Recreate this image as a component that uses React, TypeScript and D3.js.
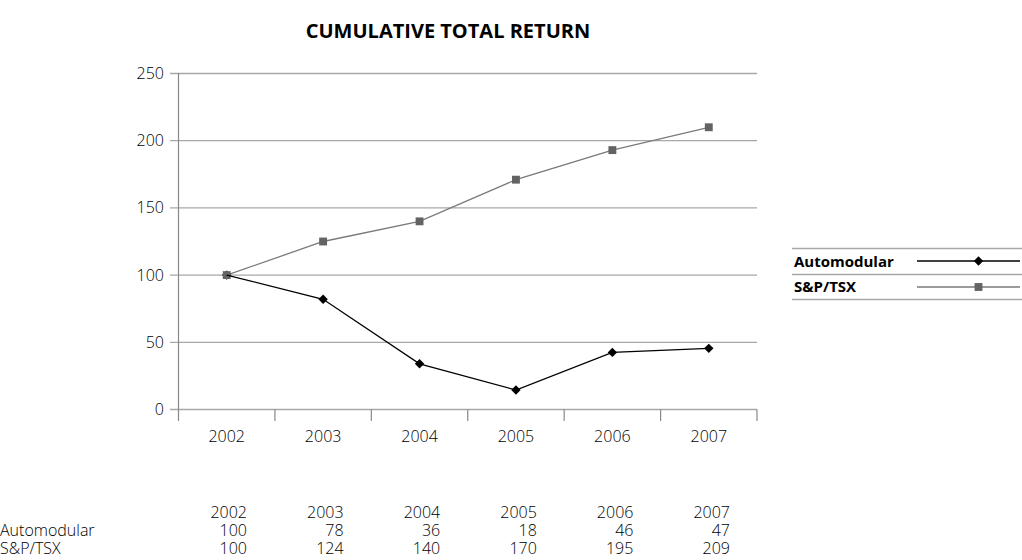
import React from "react";
import * as d3 from "d3";

const years = ["2002", "2003", "2004", "2005", "2006", "2007"];
const automodularPlot = [100, 82, 34, 14.5, 42.5, 45.5];
const sptsxPlot = [100, 125, 140, 171, 193, 210];
const automodularTable = ["100", "78", "36", "18", "46", "47"];
const sptsxTable = ["100", "124", "140", "170", "195", "209"];
const yTicks = [0, 50, 100, 150, 200, 250];
const seriesNames = ["Automodular", "S&P/TSX"];

const FONT = "'Open Sans', 'Noto Sans', sans-serif";

export default function App() {
  const x = d3.scaleBand<string>().domain(years).range([178.5, 757]);
  const y = d3.scaleLinear().domain([0, 250]).range([409.5, 73.5]);
  const cx = (d: string) => (x(d) as number) + x.bandwidth() / 2;
  const line = d3
    .line<number>()
    .x((_, i) => cx(years[i]))
    .y((v) => y(v));
  const diamond = d3.symbol(d3.symbolSquare, 44)() as string;
  const square = d3.symbol(d3.symbolSquare, 62)() as string;
  const boundaries = [...years.map((d) => x(d) as number), 757];
  const colRight = (i: number) => 247 + i * 96.6;

  return (
    <div style={{ position: "absolute", left: 0, top: 0 }}>
      <svg width={1022} height={560} style={{ display: "block", fontFamily: FONT }}>
        <rect width={1022} height={560} fill="#fff" />
        <text x={448} y={38} textAnchor="middle" fontSize={20} fontWeight={700} fill="#000">
          CUMULATIVE TOTAL RETURN
        </text>
        {/* grid */}
        {yTicks.map((t) => (
          <g key={t}>
            <line x1={170} x2={757} y1={y(t)} y2={y(t)} stroke="#a8a8a8" strokeWidth={1.3} />
            <text x={164} y={y(t) + 5.5} textAnchor="end" fontSize={16} fontWeight={300} fill="#000">
              {t}
            </text>
          </g>
        ))}
        {/* y axis */}
        <line x1={178.5} x2={178.5} y1={73} y2={421} stroke="#888" strokeWidth={1.2} />
        {boundaries.slice(1).map((b, i) => (
          <line key={i} x1={b} x2={b} y1={409.5} y2={421} stroke="#888" strokeWidth={1.2} />
        ))}
        {years.map((d) => (
          <text key={d} x={cx(d)} y={442} textAnchor="middle" fontSize={16} fontWeight={300} fill="#000">
            {d}
          </text>
        ))}
        {/* series */}
        <path d={line(sptsxPlot) as string} fill="none" stroke="#7a7a7a" strokeWidth={1.3} />
        {automodularPlot.map((v, i) => (
          <path key={i} d={diamond} transform={`translate(${cx(years[i])},${y(v)}) rotate(45)`} fill="#000" />
        ))}
        {sptsxPlot.map((v, i) => (
          <path key={i} d={square} transform={`translate(${cx(years[i])},${y(v)})`} fill="#636363" />
        ))}
        <path d={line(automodularPlot) as string} fill="none" stroke="#000" strokeWidth={1.3} />
        {/* legend */}
        <line x1={792} x2={1022} y1={248.5} y2={248.5} stroke="#a8a8a8" strokeWidth={1.3} />
        <line x1={792} x2={1022} y1={274.5} y2={274.5} stroke="#a8a8a8" strokeWidth={1.3} />
        <line x1={792} x2={1022} y1={299.5} y2={299.5} stroke="#a8a8a8" strokeWidth={1.3} />
        <text x={794} y={267} fontSize={15} fontWeight={700} fill="#000">{seriesNames[0]}</text>
        <text x={794} y={292} fontSize={15} fontWeight={700} fill="#000">{seriesNames[1]}</text>
        <line x1={917} x2={1020} y1={261} y2={261} stroke="#000" strokeWidth={1.3} />
        <path d={diamond} transform="translate(978.5,261) rotate(45)" fill="#000" />
        <line x1={917} x2={1020} y1={287} y2={287} stroke="#7a7a7a" strokeWidth={1.3} />
        <path d={square} transform="translate(978.5,287)" fill="#636363" />
        {/* table */}
        {years.map((d, i) => (
          <text key={d} x={colRight(i)} y={518} textAnchor="end" fontSize={16} fontWeight={300} fill="#000">
            {d}
          </text>
        ))}
        <text x={0} y={536} fontSize={16} fontWeight={300} fill="#000">{seriesNames[0]}</text>
        {automodularTable.map((v, i) => (
          <text key={i} x={colRight(i)} y={536} textAnchor="end" fontSize={16} fontWeight={300} fill="#000">
            {v}
          </text>
        ))}
        <text x={0} y={554} fontSize={16} fontWeight={300} fill="#000">{seriesNames[1]}</text>
        {sptsxTable.map((v, i) => (
          <text key={i} x={colRight(i)} y={554} textAnchor="end" fontSize={16} fontWeight={300} fill="#000">
            {v}
          </text>
        ))}
      </svg>
    </div>
  );
}
